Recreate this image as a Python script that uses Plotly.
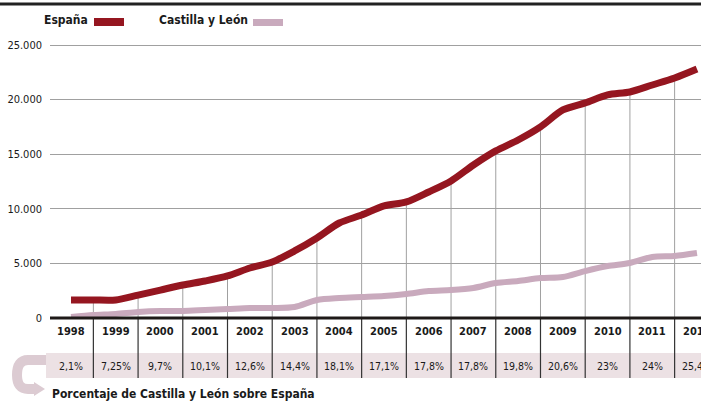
import plotly.graph_objects as go

# ---------------- data ----------------
anios = [1998, 1999, 2000, 2001, 2002, 2003, 2004, 2005, 2006, 2007, 2008, 2009, 2010, 2011, 2012]
porcentaje = ["2,1%", "7,25%", "9,7%", "10,1%", "12,6%", "14,4%", "18,1%", "17,1%",
              "17,8%", "17,8%", "19,8%", "20,6%", "23%", "24%", "25,4%"]

periodo = [1998.0, 1998.5, 1999.0, 1999.5, 2000.0, 2000.5, 2001.0, 2001.5, 2002.0, 2002.5,
           2003.0, 2003.5, 2004.0, 2004.5, 2005.0, 2005.5, 2006.0, 2006.5, 2007.0, 2007.5,
           2008.0, 2008.5, 2009.0, 2009.5, 2010.0, 2010.5, 2011.0, 2011.5, 2012.0]
espana = [1650, 1650, 1650, 2100, 2560, 3020, 3390, 3850, 4580, 5130,
          6140, 7330, 8700, 9430, 10260, 10630, 11540, 12550, 14010, 15300,
          16300, 17500, 19050, 19700, 20430, 20700, 21340, 21980, 22800]
castilla = [100, 270, 370, 550, 640, 640, 730, 820, 920, 920,
            1000, 1650, 1830, 1920, 2010, 2200, 2470, 2560, 2750, 3200,
            3390, 3660, 3760, 4300, 4760, 5040, 5590, 5680, 5950]

# ---------------- style ----------------
W, H = 701, 403
ML, MR, MT, MB = 50, 0, 30, 85
PW, PH = W - ML - MR, H - MT - MB
ROJO = "#951620"
ROSA = "#c9aabd"
BANDA = "#ece1e4"
GANCHO = "#dccbd2"
GRIS = "#a0a0a0"
TXT = "#1a1a1a"
FONT = "DejaVu Sans Condensed, Liberation Sans Narrow, sans-serif"


def px(x):
    return (x - ML) / PW


def py(y):
    return (H - MB - y) / PH


fig = go.Figure()
fig.add_trace(go.Scatter(x=periodo, y=castilla, mode="lines", name="Castilla y León",
                         line=dict(color=ROSA, width=6, shape="spline", smoothing=0.8)))
fig.add_trace(go.Scatter(x=periodo, y=espana, mode="lines", name="España",
                         line=dict(color=ROJO, width=7, shape="spline", smoothing=0.8)))

shapes = []
annotations = []

# percentage band
shapes.append(dict(type="rect", xref="paper", yref="paper", x0=px(46), x1=1, y0=py(378), y1=py(353),
                   fillcolor=BANDA, line=dict(width=0), layer="below"))

# drop lines from España curve and separators in the table
for i, p in enumerate(periodo):
    if p % 1 == 0.5:
        shapes.append(dict(type="line", xref="x", yref="y", x0=p, x1=p, y0=0, y1=espana[i],
                           line=dict(color=GRIS, width=1), layer="below"))
        shapes.append(dict(type="line", xref="x", yref="paper", x0=p, x1=p, y0=py(378), y1=0,
                           line=dict(color="#333333", width=1.2), layer="above"))

# baseline
shapes.append(dict(type="line", xref="paper", yref="paper", x0=0, x1=1, y0=0, y1=0,
                   line=dict(color="#1e1a18", width=3)))
# top rule
shapes.append(dict(type="line", xref="paper", yref="paper", x0=px(0), x1=1, y0=py(4), y1=py(4),
                   line=dict(color="#222222", width=3)))

# hook arrow
hook = "M {a},{b} L {c},{b} Q {d},{b} {d},{e} Q {d},{f} {c},{f} L {g},{f}".format(
    a=px(46), b=py(360), c=px(28), d=px(17), e=py(375), f=py(389), g=px(36))
shapes.append(dict(type="path", xref="paper", yref="paper", path=hook,
                   line=dict(color=GANCHO, width=10)))
tri = "M {a},{b} L {c},{d} L {a},{e} Z".format(a=px(34), b=py(382), c=px(45), d=py(389), e=py(396))
shapes.append(dict(type="path", xref="paper", yref="paper", path=tri,
                   fillcolor=GANCHO, line=dict(width=0)))

# legend
shapes.append(dict(type="rect", xref="paper", yref="paper", x0=px(94), x1=px(124), y0=py(26), y1=py(18),
                   fillcolor=ROJO, line=dict(width=0)))
shapes.append(dict(type="rect", xref="paper", yref="paper", x0=px(253), x1=px(283), y0=py(26), y1=py(19),
                   fillcolor=ROSA, line=dict(width=0)))
annotations.append(dict(text="<b>España</b>", xref="paper", yref="paper", x=px(42), y=py(20),
                        xanchor="left", yanchor="middle", showarrow=False,
                        font=dict(family=FONT, size=12, color=TXT)))
annotations.append(dict(text="<b>Castilla y León</b>", xref="paper", yref="paper", x=px(157), y=py(20),
                        xanchor="left", yanchor="middle", showarrow=False,
                        font=dict(family=FONT, size=12, color=TXT)))

# year and percentage labels
for a, pc in zip(anios, porcentaje):
    annotations.append(dict(text="%d" % a, xref="x", yref="paper", x=a, y=py(331),
                            xanchor="center", yanchor="middle", showarrow=False,
                            font=dict(family=FONT, size=11, color=TXT, weight=600)))
    annotations.append(dict(text=pc, xref="x", yref="paper", x=a, y=py(366),
                            xanchor="center", yanchor="middle", showarrow=False,
                            font=dict(family=FONT, size=10.5, color=TXT)))

annotations.append(dict(text="<b>Porcentaje de Castilla y León sobre España</b>", xref="paper", yref="paper",
                        x=px(50), y=py(394), xanchor="left", yanchor="middle", showarrow=False,
                        font=dict(family=FONT, size=12, color=TXT)))

fig.update_layout(
    width=W, height=H,
    margin=dict(l=ML, r=MR, t=MT, b=MB),
    paper_bgcolor="white", plot_bgcolor="white",
    showlegend=False,
    separators=",.",
    shapes=shapes,
    annotations=annotations,
    xaxis=dict(range=[1997.53, 2012.09], showgrid=False, zeroline=False, showticklabels=False,
               ticks="", fixedrange=True),
    yaxis=dict(range=[0, 26374], tickvals=[0, 5000, 10000, 15000, 20000, 25000], tickformat=",d",
               showgrid=True, gridcolor=GRIS, gridwidth=1, zeroline=False, ticks="",
               ticklabelstandoff=7,
               tickfont=dict(family=FONT, size=11, color=TXT), fixedrange=True),
)

fig.write_html("out.html", config={"displayModeBar": False},
               post_script="document.body.style.margin='0px';")
